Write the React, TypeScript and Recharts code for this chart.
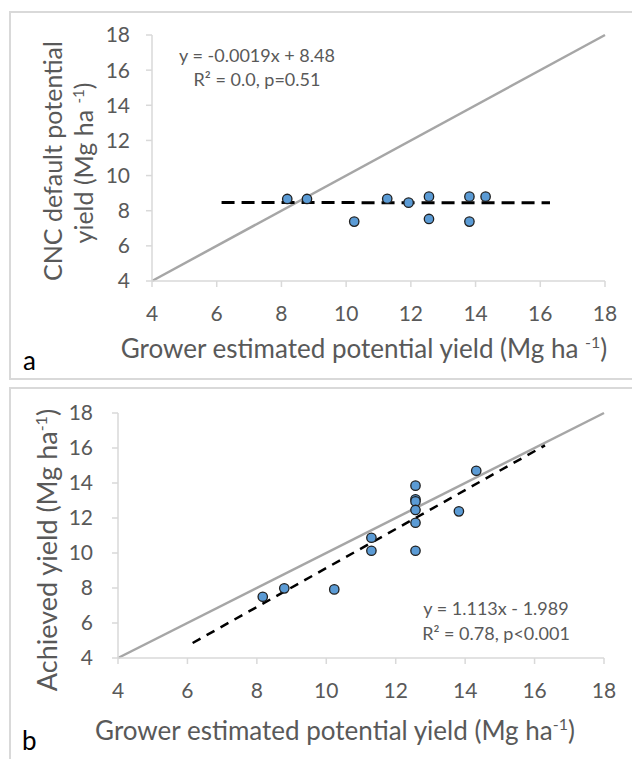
import React from 'react';
import { ScatterChart, Scatter, XAxis, YAxis, ReferenceLine } from 'recharts';

const axisTicks = [4, 6, 8, 10, 12, 14, 16, 18];

// panel a: grower estimate vs CNC default potential yield
const growerA = [8.18, 8.79, 10.25, 11.27, 11.93, 12.56, 12.56, 13.81, 13.81, 14.31];
const cncA = [8.67, 8.67, 7.38, 8.68, 8.46, 8.8, 7.53, 8.8, 7.38, 8.8];

// panel b: grower estimate vs achieved yield
const growerB = [8.17, 8.79, 10.23, 11.3, 11.3, 12.57, 12.57, 12.57, 12.57, 12.57, 12.57, 13.82, 14.32];
const achievedB = [7.5, 7.98, 7.92, 10.87, 10.13, 13.85, 13.07, 12.95, 12.46, 11.73, 10.13, 12.38, 14.7];

// trendlines as printed on the figure
const fitA = { slope: -0.0019, intercept: 8.48, from: 6.15, to: 16.3 };
const fitB = { slope: 1.113, intercept: -1.989, from: 6.15, to: 16.3 };

const gray = '#595959';
const axisStyle = { stroke: '#D9D9D9', strokeWidth: 1.5 };
const font = 'Lato, "Open Sans", sans-serif';

const Dot = (p: any) => (
  <circle cx={p.cx} cy={p.cy} r={4.7} fill="#5B9BD5" stroke="#1F1F1F" strokeWidth={1.3} />
);

type Fit = { slope: number; intercept: number; from: number; to: number };

function Panel({ xs, ys, fit, margin, dash, dashWidth, yTickMargin }: {
  xs: number[]; ys: number[]; fit: Fit;
  margin: { top: number; right: number; bottom: number; left: number };
  dash: string; dashWidth: number; yTickMargin: number;
}) {
  const pts = xs.map((x, i) => ({ x, y: ys[i] }));
  const f = (x: number) => fit.slope * x + fit.intercept;
  return (
    <ScatterChart width={632} height={380} margin={margin}>
      <XAxis
        type="number" dataKey="x" domain={[4, 18]} ticks={axisTicks}
        height={30} tickSize={6} tickMargin={19}
        axisLine={axisStyle} tickLine={axisStyle}
        tick={{ fill: gray, fontSize: 21, fontFamily: font }}
      />
      <YAxis
        type="number" dataKey="y" domain={[4, 18]} ticks={axisTicks}
        width={60} tickSize={6} tickMargin={yTickMargin}
        axisLine={axisStyle} tickLine={axisStyle}
        tick={{ fill: gray, fontSize: 21, fontFamily: font }}
      />
      <ReferenceLine
        segment={[{ x: 4, y: 4 }, { x: 18, y: 18 }]}
        stroke="#A6A6A6" strokeWidth={2.5}
      />
      <ReferenceLine
        segment={[{ x: fit.from, y: f(fit.from) }, { x: fit.to, y: f(fit.to) }]}
        stroke="#000" strokeWidth={dashWidth} strokeDasharray={dash}
      />
      <Scatter data={pts} shape={Dot} isAnimationActive={false} />
    </ScatterChart>
  );
}

export default function App() {
  return (
    <div style={{ position: 'absolute', top: 0, left: 0, width: 632, height: 759, background: '#fff', fontFamily: font, overflow: 'hidden' }}>
      <div style={{ position: 'absolute', top: 0, left: 0 }}>
        <Panel xs={growerA} ys={cncA} fit={fitA} dash="13 7" dashWidth={3} yTickMargin={16}
          margin={{ top: 35, right: 27, bottom: 69, left: 92 }} />
      </div>
      <div style={{ position: 'absolute', top: 380, left: 0 }}>
        <Panel xs={growerB} ys={achievedB} fit={fitB} dash="9 7" dashWidth={2.5} yTickMargin={19}
          margin={{ top: 33, right: 28, bottom: 72, left: 58 }} />
      </div>
      <svg width={632} height={759} style={{ position: 'absolute', top: 0, left: 0, pointerEvents: 'none' }}>
        <rect x={10} y={12} width={640} height={367} fill="none" stroke="#D9D9D9" strokeWidth={2} />
        <rect x={10} y={388} width={640} height={400} fill="none" stroke="#D9D9D9" strokeWidth={2} />

        {/* panel a texts */}
        <text x={257} y={62} textAnchor="middle" fill={gray} fontSize={18}>y = -0.0019x + 8.48</text>
        <text x={257} y={86} textAnchor="middle" fill={gray} fontSize={18}>R² = 0.0, p=0.51</text>
        <text x={364} y={358} textAnchor="middle" fill={gray} fontSize={26}>
          Grower estimated potential yield (Mg ha <tspan dy={-10} fontSize={16}>-1</tspan><tspan dy={10}>)</tspan>
        </text>
        <text transform="translate(62,161) rotate(-90)" textAnchor="middle" fill={gray} fontSize={25}>CNC default potential</text>
        <text transform="translate(93,163) rotate(-90)" textAnchor="middle" fill={gray} fontSize={25}>
          yield (Mg ha <tspan dy={-9} fontSize={15}>-1</tspan><tspan dy={9}>)</tspan>
        </text>
        <text x={23} y={370} fill="#000" fontSize={26}>a</text>

        {/* panel b texts */}
        <text x={496} y={615} textAnchor="middle" fill={gray} fontSize={18}>y = 1.113x - 1.989</text>
        <text x={496} y={640} textAnchor="middle" fill={gray} fontSize={18}>R² = 0.78, p&lt;0.001</text>
        <text x={335} y={740} textAnchor="middle" fill={gray} fontSize={26}>
          Grower estimated potential yield (Mg ha<tspan dy={-10} fontSize={16}>-1</tspan><tspan dy={10}>)</tspan>
        </text>
        <text transform="translate(57,550) rotate(-90)" textAnchor="middle" fill={gray} fontSize={27}>
          Achieved yield (Mg ha<tspan dy={-10} fontSize={16}>-1</tspan><tspan dy={10}>)</tspan>
        </text>
        <text x={22} y={750} fill="#000" fontSize={26}>b</text>
      </svg>
    </div>
  );
}
